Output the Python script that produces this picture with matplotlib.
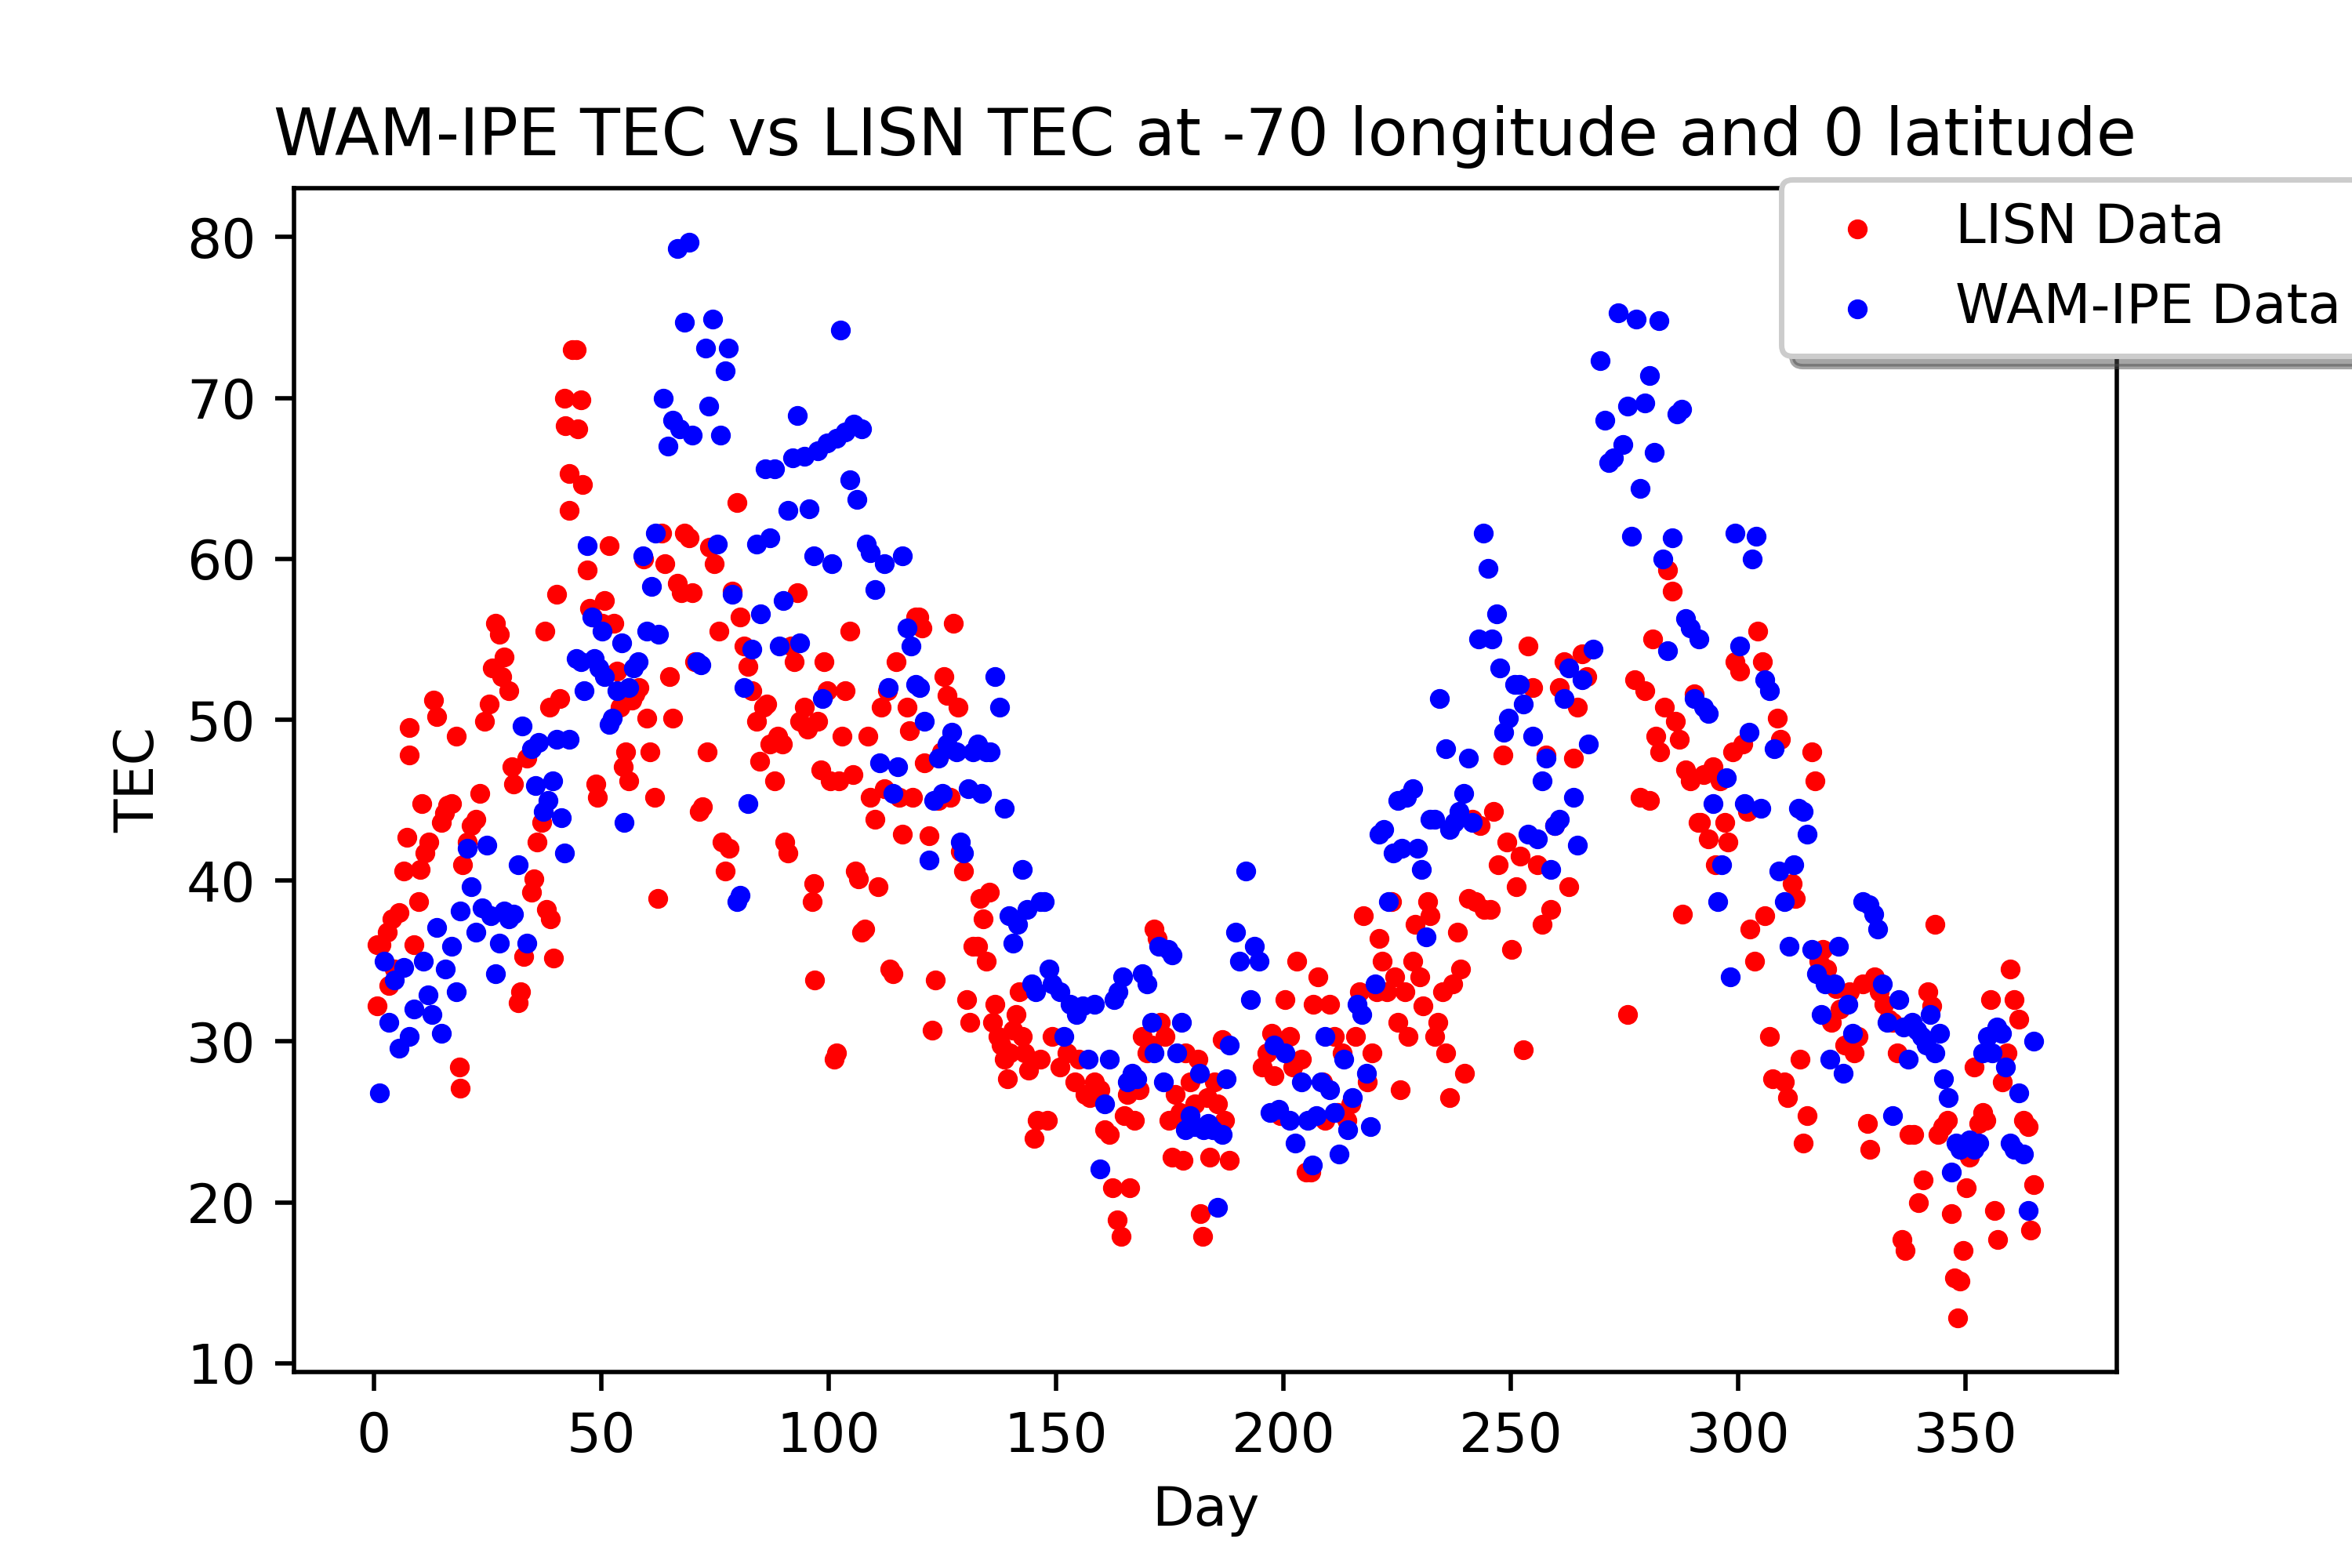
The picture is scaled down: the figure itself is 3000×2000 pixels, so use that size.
import matplotlib
matplotlib.use("Agg")
import matplotlib.pyplot as plt

TITLE = "WAM-IPE TEC vs LISN TEC at -70 longitude and 0 latitude"

# LISN observations (day of year, TEC)
LISN_DAY = [
    0.7, 0.7, 1.7, 3.0, 4.0, 3.3, 4.6, 5.6, 6.6, 7.3,
    7.9, 7.9, 8.9, 9.9, 10.2, 10.6, 11.2, 12.2, 13.2, 13.9,
    14.9, 15.5, 16.2, 17.2, 18.2, 18.8, 19.1, 19.5, 20.5, 21.5,
    22.4, 23.4, 24.4, 25.4, 26.1, 26.7, 27.7, 28.1, 28.7, 29.7,
    30.4, 30.7, 31.7, 32.3, 33.0, 33.7, 34.7, 35.3, 36.0, 37.0,
    37.6, 38.0, 38.6, 38.9, 39.6, 40.3, 40.9, 41.9, 42.2, 42.9,
    42.9, 43.6, 44.6, 44.9, 45.5, 45.9, 46.9, 47.5, 48.2, 48.8,
    49.2, 50.2, 50.8, 51.8, 52.8, 53.5, 54.1, 54.8, 55.4, 56.1,
    56.8, 57.4, 58.4, 59.4, 60.1, 60.7, 61.7, 62.4, 63.4, 64.0,
    65.0, 65.7, 66.7, 67.7, 68.3, 69.3, 70.0, 70.6, 71.6, 72.3,
    73.3, 73.9, 74.9, 75.9, 76.6, 77.2, 78.2, 78.9, 79.9, 80.5,
    81.5, 82.2, 83.2, 84.2, 84.8, 85.8, 86.5, 87.1, 88.1, 88.8,
    89.8, 90.4, 91.1, 91.7, 92.4, 93.1, 93.7, 94.7, 95.4, 96.4,
    96.7, 97.0, 97.7, 98.3, 99.0, 99.7, 100.3, 101.3, 101.7, 102.3,
    103.0, 103.6, 104.6, 105.3, 105.9, 106.6, 107.3, 107.9, 108.6, 109.2,
    110.2, 110.9, 111.6, 112.2, 112.9, 113.5, 114.2, 114.9, 115.5, 116.2,
    117.2, 117.8, 118.5, 119.1, 119.8, 120.5, 121.1, 122.1, 122.8, 123.4,
    124.1, 124.8, 125.4, 126.1, 126.7, 127.4, 128.4, 129.0, 129.7, 130.4,
    131.0, 131.7, 132.7, 133.3, 134.0, 134.7, 135.3, 136.0, 136.6, 137.3,
    138.0, 138.6, 139.3, 139.9, 140.6, 141.3, 141.9, 142.6, 143.2, 143.9,
    145.2, 145.9, 146.5, 148.2, 149.2, 150.8, 152.5, 154.1, 155.1, 156.4,
    157.4, 158.4, 159.7, 160.7, 161.7, 162.4, 163.4, 164.4, 165.0, 165.7,
    166.3, 167.3, 168.3, 169.0, 170.0, 171.0, 171.6, 172.3, 172.9, 173.9,
    174.9, 175.6, 176.2, 177.2, 177.9, 178.5, 179.5, 180.5, 181.2, 181.8,
    182.2, 183.2, 183.8, 184.8, 185.5, 186.5, 187.1, 188.1,
    195.4, 196.4, 197.4, 198.0, 199.3, 200.3, 201.3, 202.0, 203.0, 204.0,
    205.0, 206.0, 206.6, 207.6, 208.6, 209.2, 210.2, 211.2, 211.9, 212.9,
    213.9, 214.9, 215.8, 216.8, 217.5, 218.5, 219.5, 220.5, 221.1, 221.8,
    222.8, 223.8, 224.4, 225.1, 225.7, 226.7, 227.4, 228.4, 229.0, 230.0,
    230.7, 231.7, 232.3, 233.3, 234.0, 235.0, 235.6, 236.6, 237.3, 238.3,
    238.9, 239.9, 240.6, 241.6, 242.2, 243.2, 244.2, 245.5, 246.2, 247.2,
    248.2, 249.2, 250.2, 251.2, 252.1, 252.8, 253.8, 254.8, 255.8, 256.8,
    257.8, 258.7, 259.7, 260.7, 261.7, 262.7, 263.7, 264.7, 265.7, 266.7,
    275.6, 277.2, 278.5, 279.5, 280.5, 281.2, 281.8, 282.8, 283.8, 284.5,
    285.5, 286.1, 287.1, 287.8, 288.4, 289.4, 290.4, 291.1, 291.7, 292.4,
    293.4, 294.4, 295.0, 296.0, 297.0, 297.7, 298.7, 299.3, 300.3, 301.0,
    302.0, 302.6, 303.6, 304.3, 305.3, 305.9, 306.9, 307.6, 308.6, 309.2,
    310.2, 310.9, 311.9, 312.5, 313.5, 314.2, 315.2, 316.2, 316.8, 317.8,
    318.5, 319.5, 320.5, 321.5, 322.4, 323.4, 324.4, 325.4, 326.4, 327.4,
    328.4, 329.0, 330.0, 331.0, 332.0, 333.0, 334.0, 335.0, 336.0, 336.6,
    337.6, 338.6, 339.6, 340.6, 341.6, 342.6, 343.2, 343.9, 344.9, 345.9,
    346.9, 347.5, 348.2, 348.8, 349.5, 350.2, 350.8, 351.8, 352.8, 353.8,
    354.5, 355.4, 356.4, 357.1, 358.1, 359.1, 359.7, 360.7, 361.7, 362.7,
    363.7, 364.3, 365.0,
]
LISN_TEC = [
    32.2, 36.0, 36.0, 36.8, 37.6, 33.5, 34.5, 38.0, 40.6, 42.7,
    49.5, 47.8, 36.0, 38.7, 40.7, 44.8, 41.7, 42.4, 51.2, 50.2,
    43.6, 44.2, 44.7, 44.8, 49.0, 28.4, 27.1, 41.0, 42.4, 43.4,
    43.8, 45.4, 49.9, 51.0, 53.2, 56.0, 55.3, 52.7, 53.9, 51.8,
    47.1, 46.0, 32.4, 33.1, 35.3, 47.6, 39.3, 40.1, 42.4, 43.6,
    55.5, 38.2, 50.8, 37.6, 35.2, 57.8, 51.3, 70.0, 68.3, 65.3,
    63.0, 73.0, 73.0, 68.1, 69.9, 64.6, 59.3, 56.9, 56.4, 46.0,
    45.2, 56.0, 57.4, 60.8, 56.0, 53.0, 50.8, 47.1, 48.0, 46.2,
    51.2, 51.6, 52.0, 60.0, 50.1, 48.0, 45.2, 38.9, 61.6, 59.7,
    52.7, 50.1, 58.5, 57.9, 61.6, 61.3, 57.9, 53.6, 44.3, 44.6,
    48.0, 60.7, 59.7, 55.5, 42.4, 40.6, 42.0, 58.0, 63.5, 56.4,
    54.6, 53.3, 51.8, 49.9, 47.4, 50.8, 51.0, 48.5, 46.2, 49.0,
    48.5, 42.4, 41.7, 54.6, 53.6, 57.9, 49.9, 50.8, 49.4, 38.7,
    39.8, 33.8, 49.9, 46.9, 53.6, 51.8, 46.2, 28.9, 29.3, 46.2,
    49.0, 51.8, 55.5, 46.6, 40.6, 40.1, 36.8, 37.0, 49.0, 45.2,
    43.8, 39.6, 50.8, 45.7, 51.8, 34.5, 34.2, 53.6, 45.2, 42.9,
    50.8, 49.3, 45.2, 56.4, 56.4, 55.7, 47.3, 42.8, 30.7, 33.8,
    45.0, 48.0, 52.7, 51.5, 45.2, 56.0, 50.8, 41.8, 40.6, 32.6,
    31.2, 35.9, 35.9, 38.9, 37.6, 35.0, 39.3, 31.2, 32.3, 30.3,
    29.8, 28.9, 27.7, 29.3, 30.7, 31.7, 33.1, 30.3, 29.3, 28.2,
    24.0, 25.1, 28.9, 25.1, 30.3, 28.4, 29.3, 27.5, 28.9, 26.7,
    26.5, 27.5, 27.0, 24.5, 24.2, 20.9, 18.9, 17.9, 25.4, 26.7,
    20.9, 25.1, 27.0, 30.3, 29.3, 29.8, 37.0, 36.4, 31.2, 30.3,
    25.1, 22.8, 26.7, 25.6, 22.6, 29.3, 27.5, 26.1, 28.9, 19.3,
    17.9, 26.5, 22.8, 27.5, 26.1, 30.1, 25.1, 22.6,
    28.4, 29.3, 30.5, 27.9, 25.4, 32.6, 30.3, 28.4, 35.0, 28.9,
    21.9, 21.9, 32.3, 34.0, 27.5, 25.1, 32.3, 30.3, 25.6, 29.3,
    25.1, 26.1, 30.3, 33.1, 37.8, 27.5, 29.3, 33.1, 36.4, 35.0,
    33.1, 38.7, 34.0, 31.2, 27.0, 33.1, 30.3, 35.0, 37.3, 34.0,
    32.2, 38.7, 37.8, 30.3, 31.2, 33.1, 29.3, 26.5, 33.6, 36.8,
    34.5, 28.0, 38.9, 43.8, 38.7, 43.4, 38.2, 38.2, 44.3, 41.0,
    47.8, 42.4, 35.7, 39.6, 41.5, 29.5, 54.6, 52.0, 41.0, 37.3,
    47.8, 38.2, 43.4, 52.0, 53.6, 39.6, 47.6, 50.8, 54.1, 52.7,
    31.7, 52.5, 45.2, 51.8, 45.0, 55.0, 49.0, 48.0, 50.8, 59.3,
    58.0, 49.9, 48.8, 37.9, 46.9, 46.2, 51.6, 43.6, 43.6, 46.6,
    42.6, 47.1, 41.0, 46.2, 43.6, 42.4, 48.0, 53.6, 53.0, 48.5,
    44.3, 37.0, 35.0, 55.5, 53.6, 37.8, 30.3, 27.7, 50.1, 48.8,
    27.5, 26.5, 39.8, 38.9, 28.9, 23.7, 25.4, 48.0, 46.2, 35.0,
    35.7, 34.5, 31.2, 33.3, 32.0, 29.8, 33.1, 29.3, 30.3, 33.6,
    24.9, 23.3, 34.0, 33.1, 32.3, 31.4, 31.2, 29.3, 17.7, 17.0,
    24.2, 24.2, 20.0, 21.4, 33.1, 32.2, 37.3, 24.2, 24.7, 25.1,
    19.3, 15.3, 12.8, 15.1, 17.0, 20.9, 22.8, 28.4, 24.9, 25.6,
    25.1, 32.6, 19.5, 17.7, 27.5, 29.3, 34.5, 32.6, 31.4, 25.1,
    24.7, 18.3, 21.1,
]

# WAM-IPE model output (day of year, TEC)
WAM_DAY = [
    1.3, 2.3, 3.3, 4.6, 5.6, 6.6, 7.9, 8.9, 10.9, 11.9,
    12.9, 13.9, 14.9, 15.8, 17.2, 18.2, 19.1, 20.5, 21.5, 22.4,
    23.8, 24.8, 25.7, 26.7, 27.7, 28.7, 29.7, 30.7, 31.7, 32.7,
    33.7, 34.7, 35.6, 36.3, 37.3, 38.3, 39.3, 40.3, 41.3, 41.9,
    42.9, 44.6, 45.5, 46.2, 46.9, 47.9, 48.5, 49.5, 50.2, 50.8,
    51.8, 52.5, 53.5, 54.5, 55.1, 56.1, 57.1, 58.1, 59.1, 60.1,
    61.1, 62.0, 62.7, 63.7, 64.7, 65.7, 66.7, 67.3, 68.3, 69.3,
    70.0, 71.0, 71.9, 72.9, 73.6, 74.6, 75.6, 76.2, 77.2, 77.9,
    78.9, 79.9, 80.5, 81.5, 82.2, 83.2, 84.2, 85.1, 86.1, 87.1,
    88.1, 89.1, 90.1, 91.1, 92.1, 93.1, 93.7, 94.7, 95.7, 96.7,
    97.7, 98.7, 99.7, 100.7, 101.7, 102.6, 103.6, 104.6, 105.6, 106.3,
    107.3, 108.3, 109.2, 110.2, 111.2, 112.2, 113.2, 114.2, 115.2, 116.2,
    117.2, 118.2, 119.1, 120.1, 121.1, 122.1, 123.1, 124.1, 125.1, 126.1,
    127.1, 128.1, 129.0, 129.7, 130.7, 131.7, 132.7, 133.7, 134.7, 135.6,
    136.6, 137.6, 138.6, 139.6, 140.6, 141.6, 142.6, 143.6, 144.6, 145.5,
    146.5, 147.5, 148.5, 149.2, 150.8, 151.8, 153.1, 154.5, 155.8, 157.1,
    158.4, 159.7, 160.7, 161.7, 162.7, 163.7, 164.7, 165.7, 166.7, 167.7,
    169.0, 170.0, 171.0, 171.6, 172.6, 173.6, 174.6, 175.6, 176.6, 177.6,
    178.5, 179.5, 180.5, 181.5, 182.5, 183.5, 184.5, 185.5, 186.5, 187.5,
    188.1, 189.4, 190.4, 191.7, 192.7, 193.7, 194.7,
    197.0, 198.0, 199.0, 200.3, 201.3, 202.6, 204.0, 205.3, 206.3, 207.3,
    208.3, 209.2, 210.2, 211.2, 212.2, 213.2, 214.2, 215.2, 216.2, 217.2,
    218.2, 219.1, 220.1, 221.1, 222.1, 223.1, 224.1, 225.1, 226.1, 227.1,
    228.4, 229.4, 230.4, 231.4, 232.3, 233.3, 234.3, 235.6, 236.6, 237.6,
    238.6, 239.6, 240.6, 241.6, 242.9, 243.9, 244.9, 245.9, 246.9, 247.5,
    248.5, 249.5, 250.8, 251.8, 252.8, 253.8, 254.8, 255.8, 256.8, 257.8,
    258.7, 259.7, 260.7, 261.7, 262.7, 263.7, 264.7, 265.7, 267.0, 268.0,
    269.6, 270.6, 271.6, 272.6, 273.6, 274.6, 275.6, 276.6, 277.6, 278.5,
    279.5, 280.5, 281.5, 282.5, 283.5, 284.5, 285.5, 286.5, 287.5, 288.4,
    289.4, 290.4, 291.4, 292.4, 293.4, 294.4, 295.4, 296.4, 297.4, 298.3,
    299.3, 300.3, 301.3, 302.3, 303.0, 304.0, 305.0, 305.9, 306.9, 307.9,
    308.9, 310.2, 311.2, 312.2, 313.2, 314.2, 315.2, 316.2, 317.2, 318.2,
    319.1, 320.1, 321.1, 322.1, 323.1, 324.1, 325.1, 327.4, 328.7, 329.7,
    330.7, 331.7, 332.7, 334.0, 335.3, 336.3, 337.3, 338.3, 339.3, 340.3,
    341.3, 342.2, 343.2, 344.2, 345.2, 346.2, 346.9, 347.9, 348.8, 349.8,
    350.8, 351.8, 352.8, 353.8, 354.8, 355.8, 356.8, 357.8, 358.7, 359.7,
    360.7, 361.7, 362.7, 363.7, 365.0,
]
WAM_TEC = [
    26.8, 35.0, 31.2, 33.8, 29.6, 34.6, 30.3, 32.0, 35.0, 32.9,
    31.7, 37.1, 30.5, 34.5, 35.9, 33.1, 38.1, 42.0, 39.6, 36.8,
    38.3, 42.2, 37.8, 34.2, 36.1, 38.1, 37.6, 37.9, 41.0, 49.6,
    36.1, 48.2, 45.9, 48.6, 44.3, 45.0, 46.2, 48.8, 43.9, 41.7,
    48.8, 53.8, 53.6, 51.8, 60.8, 56.4, 53.8, 53.2, 55.5, 52.7,
    49.7, 50.1, 51.8, 54.8, 43.6, 52.0, 53.2, 53.6, 60.2, 55.5,
    58.3, 61.6, 55.3, 70.0, 67.0, 68.6, 79.3, 68.1, 74.7, 79.7,
    67.7, 53.6, 53.4, 73.1, 69.5, 74.9, 60.9, 67.7, 71.7, 73.1,
    57.8, 38.7, 39.1, 52.0, 44.8, 54.4, 60.9, 56.6, 65.6, 61.3,
    65.6, 54.6, 57.4, 63.0, 66.3, 68.9, 54.8, 66.4, 63.1, 60.2,
    66.7, 51.3, 67.2, 59.7, 67.5, 74.2, 67.9, 64.9, 68.4, 63.7,
    68.1, 60.9, 60.4, 58.1, 47.3, 59.7, 52.0, 45.4, 47.1, 60.2,
    55.7, 54.6, 52.2, 52.0, 49.9, 41.3, 45.0, 47.6, 45.4, 48.5,
    49.2, 48.0, 42.4, 41.7, 45.7, 48.0, 48.5, 45.4, 48.0, 48.0,
    52.7, 50.8, 44.5, 37.8, 36.1, 37.3, 40.7, 38.2, 33.6, 33.1,
    38.7, 38.7, 34.5, 33.6, 33.1, 30.3, 32.3, 31.7, 32.2, 28.9,
    32.3, 22.1, 26.1, 28.9, 32.6, 33.1, 34.0, 27.5, 28.0, 27.7,
    34.2, 33.6, 31.2, 29.3, 35.9, 27.5, 35.7, 35.4, 29.3, 31.2,
    24.5, 25.4, 24.7, 28.0, 24.5, 24.9, 24.5, 19.7, 24.2, 27.7,
    29.8, 36.8, 35.0, 40.6, 32.6, 35.9, 35.0,
    25.6, 29.8, 25.8, 29.3, 25.1, 23.7, 27.5, 25.1, 22.3, 25.4,
    27.5, 30.3, 27.0, 25.6, 23.0, 28.9, 24.5, 26.5, 32.3, 31.7,
    28.0, 24.7, 33.6, 42.9, 43.2, 38.7, 41.7, 45.0, 42.0, 45.2,
    45.7, 42.0, 40.7, 36.5, 43.8, 43.8, 51.3, 48.2, 43.2, 43.6,
    44.3, 45.4, 47.6, 43.6, 55.0, 61.6, 59.4, 55.0, 56.6, 53.2,
    49.2, 50.1, 52.2, 52.2, 51.0, 42.9, 49.0, 42.6, 46.2, 47.6,
    40.7, 43.4, 43.8, 51.3, 53.2, 45.2, 42.2, 52.5, 48.5, 54.4,
    72.3, 68.6, 66.0, 66.3, 75.3, 67.1, 69.5, 61.4, 74.9, 64.4,
    69.7, 71.4, 66.6, 74.8, 60.0, 54.3, 61.3, 69.0, 69.3, 56.3,
    55.7, 51.3, 55.0, 50.8, 50.4, 44.8, 38.7, 41.0, 46.4, 34.0,
    61.6, 54.6, 44.8, 49.2, 60.0, 61.4, 44.5, 52.5, 51.8, 48.2,
    40.6, 38.7, 35.9, 41.0, 44.5, 44.3, 42.9, 35.7, 34.2, 31.7,
    33.6, 28.9, 33.6, 35.9, 28.0, 32.3, 30.5, 38.7, 38.5, 37.9,
    37.0, 33.6, 31.2, 25.4, 32.6, 30.9, 28.9, 31.2, 30.7, 30.3,
    29.8, 31.7, 29.3, 30.5, 27.7, 26.5, 21.9, 23.7, 23.3, 23.5,
    23.9, 23.3, 23.7, 29.3, 30.3, 29.3, 30.9, 30.5, 28.4, 23.7,
    23.3, 26.8, 23.0, 19.5, 30.0,
]

fig, ax = plt.subplots(figsize=(6, 4), dpi=500)
fig.subplots_adjust(left=0.125, right=0.9, bottom=0.125, top=0.88)

ax.scatter(LISN_DAY, LISN_TEC, s=7, color="red", label="LISN Data")
ax.scatter(WAM_DAY, WAM_TEC, s=7, color="blue", label="WAM-IPE Data")

ax.set_title(TITLE)
ax.set_xlabel("Day")
ax.set_ylabel("TEC")
ax.legend(loc="upper right", bbox_to_anchor=(1.15, 1.03), shadow=True)

fig.savefig("out.png", dpi=500)
